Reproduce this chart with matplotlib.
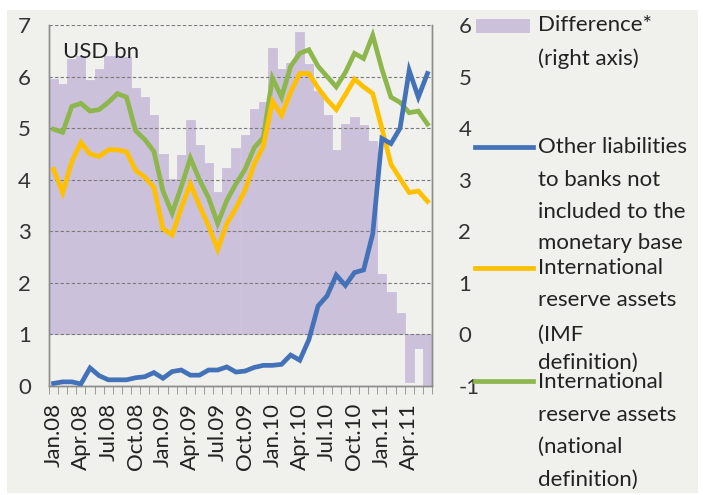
import matplotlib
matplotlib.use('Agg')
import matplotlib.pyplot as plt
from matplotlib.lines import Line2D
from matplotlib.patches import Rectangle
import numpy as np

plt.rcParams['font.family'] = ['Lato', 'DejaVu Sans']
plt.rcParams['axes.unicode_minus'] = False

# 月度类别 Jan.08 - Jun.11
months = ['Jan.08', 'Feb.08', 'Mar.08', 'Apr.08', 'May.08', 'Jun.08',
          'Jul.08', 'Aug.08', 'Sep.08', 'Oct.08', 'Nov.08', 'Dec.08',
          'Jan.09', 'Feb.09', 'Mar.09', 'Apr.09', 'May.09', 'Jun.09',
          'Jul.09', 'Aug.09', 'Sep.09', 'Oct.09', 'Nov.09', 'Dec.09',
          'Jan.10', 'Feb.10', 'Mar.10', 'Apr.10', 'May.10', 'Jun.10',
          'Jul.10', 'Aug.10', 'Sep.10', 'Oct.10', 'Nov.10', 'Dec.10',
          'Jan.11', 'Feb.11', 'Mar.11', 'Apr.11', 'May.11', 'Jun.11']
tick_labels = ['Jan.08', 'Apr.08', 'Jul.08', 'Oct.08', 'Jan.09', 'Apr.09',
               'Jul.09', 'Oct.09', 'Jan.10', 'Apr.10', 'Jul.10', 'Oct.10',
               'Jan.11', 'Apr.11']

# Difference* (right axis)
difference = [4.95, 4.85, 5.35, 5.40, 4.93, 5.15, 5.40, 5.40, 5.38, 4.78,
              4.60, 4.25, 3.50, 3.02, 3.48, 4.15, 3.67, 3.32, 2.77, 3.22,
              3.62, 3.86, 4.38, 4.50, 5.55, 5.15, 5.26, 5.87, 5.25, 4.72,
              4.25, 3.57, 4.08, 4.22, 4.06, 3.75, 1.18, 0.83, 0.42, -0.92,
              -0.27, -0.98]

# left axis, USD bn
other_liab = [0.05, 0.08, 0.08, 0.04, 0.35, 0.20, 0.12, 0.12, 0.12, 0.16,
              0.18, 0.26, 0.15, 0.28, 0.31, 0.21, 0.21, 0.31, 0.31, 0.37,
              0.27, 0.29, 0.36, 0.40, 0.40, 0.42, 0.60, 0.50, 0.90, 1.55,
              1.75, 2.15, 1.95, 2.20, 2.25, 2.95, 4.80, 4.70, 5.00, 6.12,
              5.60, 6.06]
reserves_imf = [4.20, 3.75, 4.35, 4.72, 4.50, 4.45, 4.58, 4.58, 4.54, 4.18,
                4.05, 3.85, 3.05, 2.93, 3.45, 3.92, 3.50, 3.10, 2.65, 3.15,
                3.45, 3.80, 4.30, 4.65, 5.52, 5.25, 5.70, 6.06, 6.06, 5.78,
                5.55, 5.36, 5.65, 5.95, 5.80, 5.67, 5.00, 4.30, 4.02, 3.75,
                3.78, 3.58]
reserves_nat = [4.98, 4.92, 5.42, 5.48, 5.33, 5.36, 5.50, 5.67, 5.60, 4.95,
                4.78, 4.55, 3.78, 3.35, 3.86, 4.42, 4.00, 3.65, 3.15, 3.60,
                3.92, 4.20, 4.62, 4.82, 5.97, 5.60, 6.20, 6.45, 6.52, 6.20,
                6.00, 5.80, 6.08, 6.45, 6.35, 6.80, 6.15, 5.60, 5.50, 5.30,
                5.33, 5.08]

BG = '#F0F1EC'
BAR_C = '#CCC1DA'
BLUE = '#4472B8'
YELLOW = '#FFC000'
GREEN = '#8DB64C'
FS = 16

fig = plt.figure(figsize=(7.03, 4.95), dpi=100)
fig.patch.set_facecolor('white')
fig.patches.append(Rectangle((7 / 703, 2 / 495), 691 / 703, 483 / 495,
                             transform=fig.transFigure, facecolor=BG,
                             edgecolor='none', zorder=-10))

W, H = 703, 495
ax2 = fig.add_axes([49 / W, 1 - 386 / H, (432 - 49) / W, (386 - 25) / H])
ax = ax2.twinx()
ax2.yaxis.tick_right()
ax.yaxis.tick_left()
ax.set_zorder(ax2.get_zorder() + 1)
ax.patch.set_visible(False)
ax2.set_facecolor(BG)

x = np.arange(len(months))

# 柱状图（右轴）
ax2.bar(x, difference, width=1.0, color=BAR_C, edgecolor=BAR_C, linewidth=0.6,
        zorder=1)
ax2.set_ylim(-1, 6)
ax2.set_yticks(range(-1, 7))

# 折线（左轴）
ax.plot(x, reserves_nat, color=GREEN, lw=3.4, solid_joinstyle='miter', zorder=3)
ax.plot(x, reserves_imf, color=YELLOW, lw=3.4, solid_joinstyle='miter', zorder=4)
ax.plot(x, other_liab, color=BLUE, lw=3.4, solid_joinstyle='miter', zorder=5)
ax.set_ylim(0, 7)
ax.set_yticks(range(0, 8))
ax.set_xlim(-0.5, len(months) - 0.5)
ax2.set_xlim(-0.5, len(months) - 0.5)

ax.grid(True, axis='y', color='#7a7a7a', lw=0.8, ls=(0, (3, 2)), zorder=2)

# x 轴刻度
ax2.set_xticks(x[::3])
ax2.set_xticklabels(tick_labels, rotation=90, fontsize=FS, color='#222222')
ax2.set_xticks(np.arange(-0.5, len(months), 1.0), minor=True)
ax2.tick_params(axis='x', which='major', length=0, pad=12)
ax2.tick_params(axis='x', which='minor', length=6, color='#8c8c8c', direction='out')
ax.tick_params(axis='x', which='both', length=0, labelbottom=False)

ax.tick_params(axis='y', length=0, pad=13, labelsize=FS, labelcolor='#333333')
ax2.tick_params(axis='y', length=0, pad=19, labelsize=FS, labelcolor='#333333')

for a in (ax, ax2):
    a.spines['top'].set_visible(False)
    for s in ('left', 'right', 'bottom'):
        a.spines[s].set_color('#8c8c8c')
        a.spines[s].set_linewidth(1.0)

ax.text(0.037, 0.925, 'USD bn', transform=ax.transAxes, fontsize=FS,
        va='center', ha='left', color='#222222')

# 图例（手动绘制）
def fx(px):
    return px / W

def fy(py):
    return 1 - py / H

fig.patches.append(Rectangle((fx(476), fy(33)), fx(530) - fx(476), fy(19) - fy(33),
                             transform=fig.transFigure, facecolor=BAR_C,
                             edgecolor='none'))
for yy, c in [(147, BLUE), (268, YELLOW), (381, GREEN)]:
    fig.add_artist(Line2D([fx(475), fx(533)], [fy(yy), fy(yy)], color=c, lw=3.4,
                          transform=fig.transFigure))

legend_lines = [
    ('Difference*', 25), ('(right axis)', 59),
    ('Other liabilities', 147), ('to banks not', 180),
    ('included to the', 212), ('monetary base', 243),
    ('International', 268), ('reserve assets', 300),
    ('(IMF', 335), ('definition)', 363),
    ('International', 382), ('reserve assets', 415),
    ('(national', 447), ('definition)', 480),
]
for txt, yy in legend_lines:
    fig.text(fx(538), fy(yy), txt, fontsize=FS, va='center', ha='left',
             color='#222222')

plt.savefig('out.png', dpi=100)
plt.close()
